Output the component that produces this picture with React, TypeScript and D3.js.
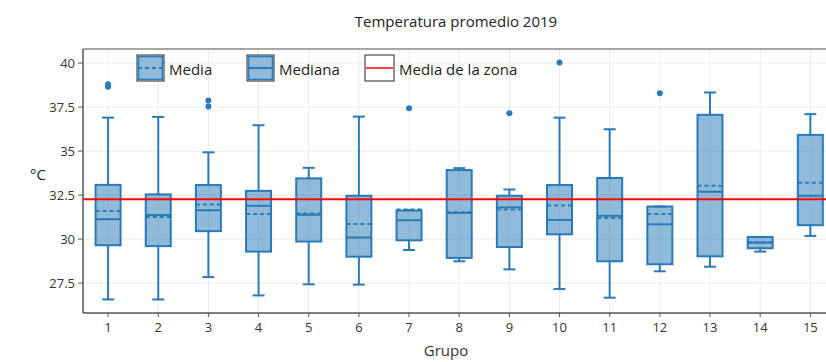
import React from 'react';
import * as d3 from 'd3';

// grupos y estadisticos
const groups = ['1', '2', '3', '4', '5', '6', '7', '8', '9', '10', '11', '12', '13', '14', '15'];
const lowerWhisker = [26.57, 26.57, 27.84, 26.8, 27.43, 27.41, 29.38, 28.74, 28.28, 27.16, 26.67, 28.17, 28.43, 29.29, 30.18];
const q1 = [29.65, 29.6, 30.45, 29.29, 29.86, 29.0, 29.93, 28.93, 29.55, 30.27, 28.74, 28.57, 29.02, 29.48, 30.79];
const medians = [31.13, 31.37, 31.64, 31.89, 31.38, 30.09, 31.07, 31.49, 31.8, 31.09, 31.32, 30.84, 32.69, 29.8, 32.46];
const means = [31.59, 31.26, 31.97, 31.43, 31.45, 30.86, 31.68, 31.53, 31.68, 31.91, 31.2, 31.43, 33.03, 29.82, 33.2];
const q3 = [33.08, 32.54, 33.07, 32.74, 33.45, 32.46, 31.62, 33.92, 32.46, 33.07, 33.47, 31.85, 37.06, 30.12, 35.92];
const upperWhisker = [36.9, 36.94, 34.93, 36.47, 34.05, 36.96, 31.65, 34.03, 32.82, 36.9, 36.24, 31.85, 38.33, 30.12, 37.1];
const outliers: [string, number][] = [
  ['1', 38.8], ['1', 38.65], ['3', 37.87], ['3', 37.53], ['7', 37.44],
  ['9', 37.15], ['10', 40.04], ['12', 38.29],
];
const zoneMean = 32.27;
const yTicks = [27.5, 30, 32.5, 35, 37.5, 40];

const blue = '#2a7ab9';
const fill = 'rgba(31,119,180,0.5)';
const font = "'Open Sans', 'Noto Sans', sans-serif";

export default function App() {
  const width = 826;
  const height = 362;
  const left = 83, top = 49, bottom = 313;

  const x = d3.scaleBand<string>().domain(groups).range([left, left + 15 * 50.16]);
  const y = d3.scaleLinear().domain([25.8, 40.8]).range([bottom, top]);
  const cx = (g: string) => (x(g) ?? 0) + x.bandwidth() / 2;
  const boxW = 25;
  const capW = 12;

  return (
    <svg width={width} height={height} style={{ position: 'absolute', left: 0, top: 0, fontFamily: font }}>
      <rect width={width} height={height} fill="#fff" />
      <text x={456} y={27} textAnchor="middle" fontSize={15} fill="#222">Temperatura promedio 2019</text>

      {/* grid */}
      {yTicks.map(t => (
        <line key={'gy' + t} x1={left} x2={width} y1={y(t)} y2={y(t)} stroke="#ebebeb" strokeWidth={1} />
      ))}
      {groups.map(g => (
        <line key={'gx' + g} x1={cx(g)} x2={cx(g)} y1={top} y2={bottom} stroke="#ebebeb" strokeWidth={1} />
      ))}

      {/* axes */}
      <line x1={left} x2={width} y1={top} y2={top} stroke="#888" strokeWidth={1.5} />
      <line x1={left} x2={left} y1={top} y2={bottom} stroke="#555" strokeWidth={1.5} />
      <line x1={left} x2={width} y1={bottom} y2={bottom} stroke="#555" strokeWidth={1.5} />
      {yTicks.map(t => (
        <g key={'ty' + t}>
          <line x1={left - 5} x2={left} y1={y(t)} y2={y(t)} stroke="#555" />
          <text x={left - 8} y={y(t)} dy="0.35em" textAnchor="end" fontSize={13} fill="#333">{t}</text>
        </g>
      ))}
      {groups.map(g => (
        <g key={'tx' + g}>
          <line x1={cx(g)} x2={cx(g)} y1={bottom} y2={bottom + 4} stroke="#555" />
          <text x={cx(g)} y={327} dy="0.35em" textAnchor="middle" fontSize={13} fill="#333">{g}</text>
        </g>
      ))}
      <text x={446} y={351} dy="0.35em" textAnchor="middle" fontSize={15} fill="#333">Grupo</text>
      <text x={38} y={175} dy="0.35em" textAnchor="middle" fontSize={15} fill="#222">°C</text>

      {/* boxes */}
      {groups.map((g, i) => {
        const c = cx(g);
        return (
          <g key={'b' + g} stroke={blue} strokeWidth={2}>
            <line x1={c} x2={c} y1={y(upperWhisker[i])} y2={y(q3[i])} />
            <line x1={c} x2={c} y1={y(q1[i])} y2={y(lowerWhisker[i])} />
            <line x1={c - capW / 2} x2={c + capW / 2} y1={y(upperWhisker[i])} y2={y(upperWhisker[i])} />
            <line x1={c - capW / 2} x2={c + capW / 2} y1={y(lowerWhisker[i])} y2={y(lowerWhisker[i])} />
            <rect x={c - boxW / 2} width={boxW} y={y(q3[i])} height={y(q1[i]) - y(q3[i])} fill={fill} />
            <line x1={c - boxW / 2} x2={c + boxW / 2} y1={y(medians[i])} y2={y(medians[i])} />
            <line x1={c - boxW / 2} x2={c + boxW / 2} y1={y(means[i])} y2={y(means[i])} strokeDasharray="4,3" />
          </g>
        );
      })}
      {outliers.map(([g, v], i) => (
        <circle key={'o' + i} cx={cx(g)} cy={y(v)} r={3} fill={blue} />
      ))}

      <line x1={left} x2={width} y1={y(zoneMean)} y2={y(zoneMean)} stroke="#f00" strokeWidth={2} />

      {/* legend */}
      <g>
        <rect x={137} y={55} width={27} height={26} fill="#fff" stroke="#222" strokeWidth={1} />
        <rect x={138.5} y={56.5} width={24} height={23} fill={fill} stroke={blue} strokeWidth={1.5} />
        <line x1={138} x2={163} y1={68} y2={68} stroke={blue} strokeWidth={2} strokeDasharray="4,3" />
        <text x={169} y={70} dy="0.35em" fontSize={15} fill="#222">Media</text>

        <rect x={247} y={55} width={27} height={26} fill="#fff" stroke="#222" strokeWidth={1} />
        <rect x={248.5} y={56.5} width={24} height={23} fill={fill} stroke={blue} strokeWidth={1.5} />
        <line x1={248} x2={273} y1={68} y2={68} stroke={blue} strokeWidth={2} />
        <text x={279} y={70} dy="0.35em" fontSize={15} fill="#222">Mediana</text>

        <rect x={365} y={55} width={29} height={26} fill="#fff" stroke="#222" strokeWidth={1} />
        <line x1={366} x2={393} y1={68} y2={68} stroke="#f00" strokeWidth={1.5} />
        <text x={399} y={70} dy="0.35em" fontSize={15} fill="#222">Media de la zona</text>
      </g>
    </svg>
  );
}
